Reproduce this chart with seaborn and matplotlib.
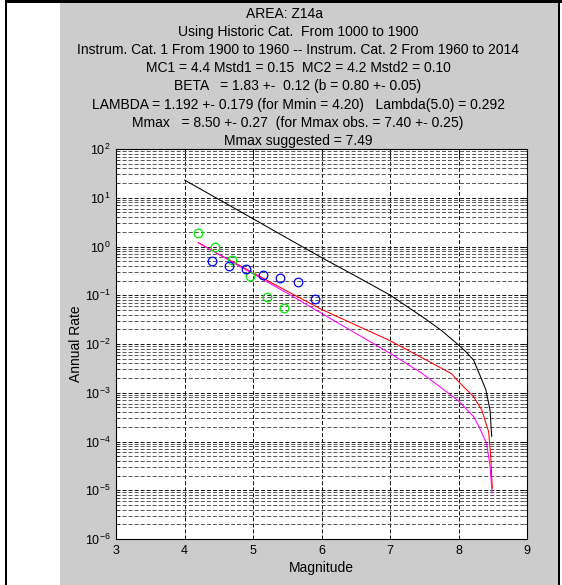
import numpy as np
import matplotlib
matplotlib.use("Agg")
import matplotlib.pyplot as plt
from matplotlib.patches import Rectangle
from matplotlib.ticker import LogLocator, FixedLocator, NullFormatter
import seaborn as sns

# ---------------- data ----------------
title_lines = [
    "AREA: Z14a",
    "Using Historic Cat.  From 1000 to 1900",
    "Instrum. Cat. 1 From 1900 to 1960 -- Instrum. Cat. 2 From 1960 to 2014",
    "MC1 = 4.4 Mstd1 = 0.15  MC2 = 4.2 Mstd2 = 0.10",
    "BETA   = 1.83 +-  0.12 (b = 0.80 +- 0.05)",
    "LAMBDA = 1.192 +- 0.179 (for Mmin = 4.20)   Lambda(5.0) = 0.292",
    "Mmax   = 8.50 +- 0.27  (for Mmax obs. = 7.40 +- 0.25)",
    "Mmax suggested = 7.49",
]

black_m = [4.0, 4.5, 5.0, 5.5, 6.0, 6.5, 7.0, 7.5, 7.75, 8.0, 8.1, 8.22, 8.33, 8.40, 8.46, 8.485]
black_rate = [23.1, 9.26, 3.71, 1.48, 0.594, 0.247, 0.101, 0.034, 0.019, 0.00955,
              0.0071, 0.00468, 0.0020, 0.00114, 0.000443, 0.000126]

red_m = [4.2, 4.5, 5.0, 5.5, 6.0, 6.5, 7.0, 7.5, 7.9, 8.0, 8.22, 8.34, 8.44, 8.47, 8.485, 8.494]
red_rate = [1.20, 0.695, 0.29, 0.121, 0.0514, 0.0245, 0.0117, 0.00493, 0.00245, 0.00169,
            0.00083, 0.000443, 0.000158, 5.0e-5, 1.9e-5, 1.1e-5]

mag_m = [4.2, 4.5, 5.0, 5.5, 6.0, 6.5, 7.0, 7.45, 7.75, 8.0, 8.22, 8.3, 8.41, 8.46, 8.49]
mag_rate = [1.20, 0.69, 0.275, 0.11, 0.0426, 0.0166, 0.00646, 0.0026, 0.00126, 0.00068,
            0.000324, 0.0002, 9.1e-5, 3.2e-5, 8.7e-6]

green_m = [4.20, 4.45, 4.70, 4.95, 5.20, 5.45]
green_rate = [1.89, 0.963, 0.528, 0.245, 0.0933, 0.054]

blue_m = [4.40, 4.65, 4.90, 5.15, 5.40, 5.65, 5.90]
blue_rate = [0.504, 0.398, 0.351, 0.260, 0.223, 0.187, 0.0857]

x_ticks = [3, 4, 5, 6, 7, 8, 9]
y_decades = [-6, -5, -4, -3, -2, -1, 0, 1, 2]

# ---------------- style ----------------
sns.set_theme(style="white")
plt.rcParams["font.family"] = ["Liberation Sans", "DejaVu Sans"]
plt.rcParams["mathtext.default"] = "regular"

W, H = 562, 585
fig = plt.figure(figsize=(W / 100, H / 100), dpi=100)
fig.patch.set_facecolor("white")

# screenshot frame: grey figure area and black borders
fig.add_artist(Rectangle((60 / W, 0), (558 - 60) / W, 1, transform=fig.transFigure,
                         facecolor="#cccccc", edgecolor="none", zorder=-10))
fig.add_artist(Rectangle((5 / W, 1 - 3 / H), 1, 3 / H, transform=fig.transFigure,
                         facecolor="black", edgecolor="none", zorder=-5))
fig.add_artist(Rectangle((5 / W, 0), 2 / W, 1, transform=fig.transFigure,
                         facecolor="black", edgecolor="none", zorder=-5))
fig.add_artist(Rectangle((558 / W, 0), 2 / W, 1, transform=fig.transFigure,
                         facecolor="black", edgecolor="none", zorder=-5))

ax = fig.add_axes([116 / W, 1 - 539 / H, (527 - 116) / W, (539 - 149) / H])
ax.set_facecolor("white")

lw = 0.75
sns.lineplot(x=black_m, y=black_rate, ax=ax, color="black", linewidth=lw,
             estimator=None, sort=False, zorder=3)
sns.lineplot(x=red_m, y=red_rate, ax=ax, color="#ff0000", linewidth=lw,
             estimator=None, sort=False, zorder=3)
sns.lineplot(x=mag_m, y=mag_rate, ax=ax, color="#ff00ff", linewidth=lw,
             estimator=None, sort=False, zorder=3)
sns.lineplot(x=green_m, y=green_rate, ax=ax, color="#00ff00", linestyle="",
             marker="o", markersize=6.2, markerfacecolor="none",
             markeredgecolor="#00ee00", markeredgewidth=0.9,
             estimator=None, sort=False, zorder=4)
sns.lineplot(x=blue_m, y=blue_rate, ax=ax, color="#0000ff", linestyle="",
             marker="o", markersize=6.2, markerfacecolor="none",
             markeredgecolor="#0000ff", markeredgewidth=0.9,
             estimator=None, sort=False, zorder=4)

ax.set_yscale("log")
ax.set_xlim(3, 9)
ax.set_ylim(1e-6, 1e2)
ax.xaxis.set_major_locator(FixedLocator(x_ticks))
ax.yaxis.set_major_locator(FixedLocator([10.0 ** k for k in y_decades]))
ax.yaxis.set_minor_locator(LogLocator(base=10, subs=np.arange(2, 10), numticks=20))
ax.yaxis.set_minor_formatter(NullFormatter())
ax.set_yticklabels([f"$10^{{{k}}}$" for k in y_decades])

ax.grid(True, which="major", axis="both", color="#111111", linewidth=0.7,
        linestyle=(0, (4.1, 2.1)))
ax.grid(True, which="minor", axis="y", color="#555555", linewidth=0.7,
        linestyle=(0, (4.1, 2.1)))
ax.set_axisbelow(True)

ax.tick_params(axis="both", which="major", direction="in", length=5, width=0.6,
               top=True, right=True, labelsize=9, colors="black", pad=4)
ax.tick_params(axis="y", which="minor", direction="in", length=2.5, width=0.5,
               left=True, right=True)
for s in ax.spines.values():
    s.set_color("black")
    s.set_linewidth(0.8)

ax.set_xlabel("Magnitude", fontsize=10, color="black", labelpad=3)
ax.set_ylabel("Annual Rate", fontsize=10, color="black", labelpad=1)

title_x = [284] + [298] * (len(title_lines) - 1)
for i, line in enumerate(title_lines):
    fig.text(title_x[i] / W, 1 - (13.5 + 18.2 * i) / H, line, ha="center", va="center",
             fontsize=10, color="black")

fig.savefig("out.png", dpi=100, facecolor=fig.get_facecolor())
